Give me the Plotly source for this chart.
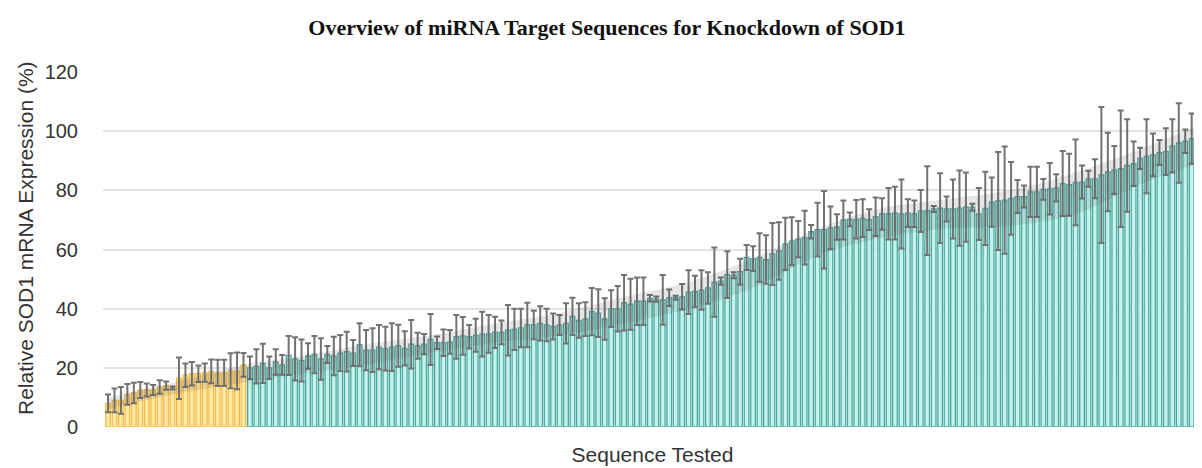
import plotly.graph_objects as go

# ---- data ----
yellow_means = [8, 9, 9, 11, 11.5, 12.5, 12.5, 12.5, 13.5, 14, 13.2, 16.5, 17.5, 18, 18, 18.4, 18.8, 18.3, 18.3, 19, 19, 21]
yellow_errs = [3, 4, 4.5, 3.5, 3.5, 2.7, 2.2, 1.7, 2.3, 1.4, 0.5, 7, 4, 4, 2.8, 3.1, 4, 4.4, 4.4, 5.9, 6.2, 4]

teal_means = [
    20, 20.5, 21.5, 20, 22, 21, 24.2, 23, 22.5, 24, 24.5, 23, 24.5, 24, 25, 25.5, 25, 27.8, 26, 26,
    27, 26.5, 27, 27.5, 26.6, 28, 27.5, 28,
    29.6, 28.5, 28.5, 28.8, 30.5, 30.8, 30.5, 31, 31.4, 31.5, 32, 32, 32.7, 33, 33.5, 34.5, 34.5, 35,
    34.5, 34, 34.5, 35, 37.4, 36, 36.5, 39, 38.5, 36.5, 40, 40, 42, 41.5,
    42.5, 42.5, 43.5, 43.2, 43, 43.7, 43.7, 44, 45.6, 45.8, 46.3, 47, 49, 49.3, 51.5, 51.3, 52.5,
    57.3, 56.9, 57.3,
    56.6, 58.5, 59.5, 61.9, 62.8, 63.5, 64, 66, 66.7, 66.7, 67.3, 67.6, 70, 70.2, 70.2, 70.6, 70.1,
    71.1, 72, 72.1, 72.3, 72, 72.3, 72.1, 73, 73.1, 73.7, 74, 73.7, 73.7, 74, 74.3, 74.3, 72, 73.9, 76,
    76.4, 76.7, 77.3, 77.9, 77.9, 79.5, 79.5, 80.3, 80.5, 80.8, 82.3, 81.9, 82.7, 82.8, 83.9, 83.9,
    85.2, 86.2, 86.9, 87.3, 88.4, 89, 90.8, 91.5, 92, 92.8, 93.1, 95, 96, 96.6, 97.5, 99,
]
teal_errs = [
    3.8, 5.8, 6.6, 3.8, 4.3, 3.3, 6.6, 7.3, 7.1, 4.3, 6.3, 7, 2.9, 6.5, 6.1, 6.7, 4.4, 7.3, 6.8, 7.4,
    7.5, 7.4, 8.1, 7.1, 5.8, 8.2, 4.4, 3.4,
    8.6, 2.1, 4.5, 4, 7.4, 6.4, 4, 5.6, 7.6, 6.4, 5.3, 4, 8.5, 7, 6.5, 7.5, 4.8, 5.8, 5.5, 4.4,
    3.4, 6.8, 6.3, 5.8, 5.7, 8, 8.1, 7, 6.2, 7.7, 9.4, 8.6,
    8, 8, 1.1, 0.9, 8.4, 2.8, 0.7, 4.3, 7.4, 5.3, 6.7, 5.3, 11.7, 1.2, 7.9, 1, 4.4, 4.2, 4.2, 8.2,
    8.2, 10.5, 9.7, 8.8, 8.1, 6.1, 9.1, 2.3, 9.1, 13.1, 7.2, 4.3, 6.6, 2.3, 6.5, 6.4, 3.5, 6.5, 5.3,
    8.7, 8.9, 11.7, 4.7, 4.5, 7.1, 15, 1, 11.8, 4.2, 10, 12.7, 11.7, 1.2, 8.8, 12.4, 8.3,
    16.6, 18.1, 12.3, 5.6, 3.7, 8.5, 8.5, 3.5, 8.7, 4.6, 11, 10.5, 14.5, 5.6, 2.7, 6.6, 23, 13.3,
    8.1, 19.7, 15.6, 7.5, 3.6, 12.5, 7.2, 4.2, 7.9, 9, 13.4, 4, 8.5, 14.9,
]

# translucent spread band (sequence index, upper, lower)
band_idx = [0, 10, 21, 30, 40, 50, 60, 70, 80, 90, 100, 110, 120, 130, 140, 150, 160, 169]
band_hi = [10, 15, 21, 24, 28, 31, 35, 38.5, 44, 49, 57, 67, 74, 77, 80, 86, 94, 102]
band_lo = [6, 11, 15, 18, 21, 25, 28.5, 31, 35, 40, 47, 58, 64, 67, 68, 72, 82, 89]

title_text = "Overview of miRNA Target Sequences for Knockdown of SOD1"
y_title = "Relative SOD1 mRNA Expression (%)"
x_title = "Sequence Tested"
y_ticks = [0, 20, 40, 60, 80, 100, 120]

n_yellow = len(yellow_means)
x_yellow = list(range(n_yellow))
x_teal = list(range(n_yellow, n_yellow + len(teal_means)))

# page body has an 8px margin: figure is shifted by (8, 8)
OFF = 8
W, H = 1202 - OFF, 468 - OFF
PL, PT, PB = 103, 72, 427          # plot area in page pixels
ml, mt = PL - OFF, PT - OFF
mb = H - (PB - OFF)
plot_w = 1202 - PL
plot_h = PB - PT

err_style = dict(type="data", visible=True, color="#727272", thickness=2, width=3)

fig = go.Figure()
fig.add_trace(go.Bar(
    x=x_yellow, y=yellow_means, width=0.72,
    marker=dict(color="#fde8a8", line=dict(color="#f4bd45", width=1.3)),
    error_y=dict(array=yellow_errs, **err_style),
    showlegend=False,
))
fig.add_trace(go.Bar(
    x=x_teal, y=teal_means, width=0.72,
    marker=dict(color="#c4f3ee", line=dict(color="#4fa99f", width=1.3)),
    error_y=dict(array=teal_errs, **err_style),
    showlegend=False,
))
fig.add_trace(go.Scatter(
    x=band_idx, y=band_lo, mode="lines", line=dict(width=0, shape="spline"),
    hoverinfo="skip", showlegend=False,
))
fig.add_trace(go.Scatter(
    x=band_idx, y=band_hi, mode="lines", line=dict(width=0, shape="spline"),
    fill="tonexty", fillcolor="rgba(80,80,80,0.14)",
    hoverinfo="skip", showlegend=False,
))

fig.update_layout(
    width=W, height=H,
    margin=dict(l=ml, r=0, t=mt, b=mb, pad=0),
    paper_bgcolor="white", plot_bgcolor="white",
    title=dict(text="<b>" + title_text + "</b>", x=(607 - OFF) / W, xanchor="center",
               y=1 - (27 - OFF) / H, yref="container", yanchor="middle",
               font=dict(family="Liberation Serif", size=22, color="#111111")),
    font=dict(family="Liberation Sans", color="#333333"),
    xaxis=dict(range=[-0.78, 169.6], showticklabels=False, showgrid=False, zeroline=False,
               showline=False, ticks="",
               title=dict(text=x_title, standoff=20,
                          font=dict(family="Liberation Sans", size=21, color="#333333"))),
    yaxis=dict(range=[0, 120], tickvals=y_ticks, showgrid=True, gridcolor="#e3e3e3", gridwidth=1.5,
               zeroline=False, showline=False, ticks="outside", ticklen=20,
               tickcolor="rgba(0,0,0,0)",
               tickfont=dict(family="Liberation Sans", size=20, color="#333333")),
    annotations=[dict(text=y_title, textangle=-90, xref="paper", yref="paper",
                      x=(25 - PL) / plot_w, y=(PB - 238) / plot_h, xanchor="center", yanchor="middle",
                      showarrow=False,
                      font=dict(family="Liberation Sans", size=21, color="#333333"))],
)

fig.write_html("out.html")
